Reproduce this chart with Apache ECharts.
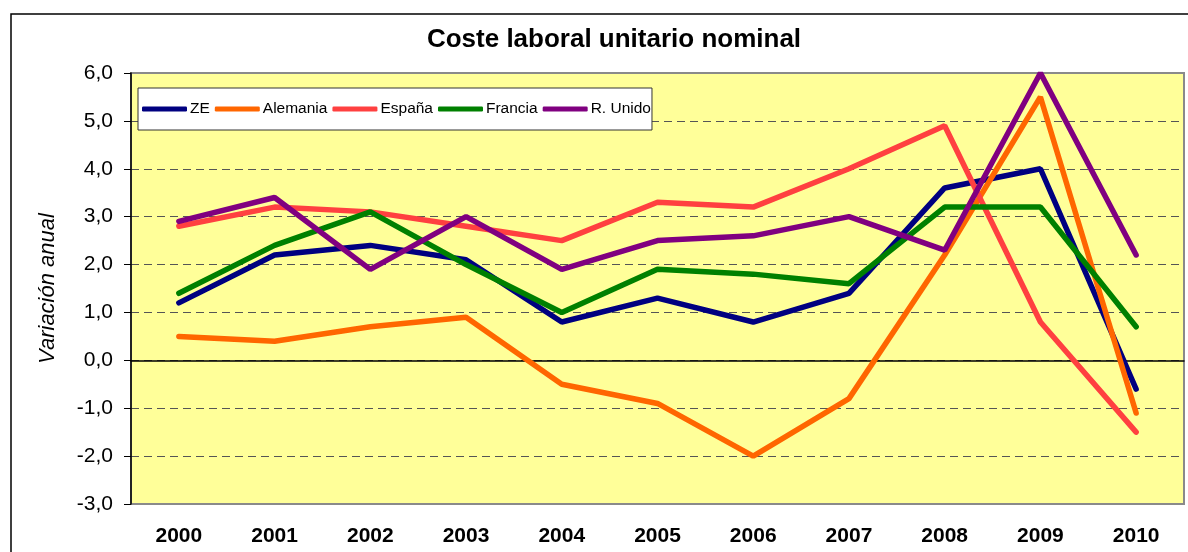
<!DOCTYPE html>
<html>
<head>
<meta charset="utf-8">
<script src="https://cdn.jsdelivr.net/npm/echarts@6/dist/echarts.min.js"></script>
<style>
html, body { margin: 0; padding: 0; background: #fff; }
#chart { width: 1188px; height: 552px; }
</style>
</head>
<body>
<div id="chart"></div>
<script>
var years = ['2000', '2001', '2002', '2003', '2004', '2005', '2006', '2007', '2008', '2009', '2010'];
var ze       = [1.2, 2.2, 2.4, 2.1, 0.8, 1.3, 0.8, 1.4, 3.6, 4.0, -0.6];
var alemania = [0.5, 0.4, 0.7, 0.9, -0.5, -0.9, -2.0, -0.8, 2.2, 5.5, -1.1];
var espana   = [2.8, 3.2, 3.1, 2.8, 2.5, 3.3, 3.2, 4.0, 4.9, 0.8, -1.5];
var francia  = [1.4, 2.4, 3.1, 2.0, 1.0, 1.9, 1.8, 1.6, 3.2, 3.2, 0.7];
var reino    = [2.9, 3.4, 1.9, 3.0, 1.9, 2.5, 2.6, 3.0, 2.3, 6.0, 2.2];

var font = '"Liberation Sans", Arial, sans-serif';

function linea(name, data, color) {
	return {
		name: name,
		type: 'line',
		data: data,
		showSymbol: false,
		symbol: 'none',
		lineStyle: { color: color, width: 5.5, cap: 'round' },
		itemStyle: { color: color },
		emphasis: { disabled: true }
	};
}

var myChart = echarts.init(document.getElementById('chart'));
var option = {
	backgroundColor: '#fff',
	animation: false,
	title: {
		text: 'Coste laboral unitario nominal',
		left: 614,
		top: 27,
		padding: 0,
		textAlign: 'center',
		textStyle: { fontFamily: font, fontSize: 26, fontWeight: 'bold', color: '#000' }
	},
	graphic: [{
		type: 'rect',
		silent: true,
		shape: { x: 11, y: 14, width: 1200, height: 600 },
		style: { fill: 'none', stroke: '#000', lineWidth: 1.5 },
		z: -10
	}],
	legend: {
		left: 138,
		top: 88,
		padding: [13, 1, 13, 4],
		itemGap: 5,
		itemWidth: 45,
		itemHeight: 5,
		icon: 'roundRect',
		backgroundColor: '#fff',
		borderColor: '#333',
		borderWidth: 1,
		borderRadius: 0,
		textStyle: { fontFamily: font, fontSize: 15.5, color: '#000', padding: [0, 0, 0, -2] },
		data: ['ZE', 'Alemania', 'España', 'Francia', 'R. Unido']
	},
	grid: {
		left: 131, top: 73, right: 4, bottom: 48,
		show: true,
		backgroundColor: '#FFFF99',
		borderColor: '#8a8a8a',
		borderWidth: 2
	},
	xAxis: [{
		type: 'category',
		data: years,
		axisLine: { onZero: true, lineStyle: { color: '#000', width: 1.5 } },
		axisTick: { length: 7, lineStyle: { color: '#000', width: 1.5 } },
		axisLabel: { show: false },
		splitLine: { show: false }
	}, {
		type: 'category',
		data: years,
		position: 'bottom',
		axisLine: { show: false, onZero: false },
		axisTick: { show: false },
		axisLabel: { margin: 22, fontFamily: font, fontSize: 21, fontWeight: 'bold', color: '#000' },
		splitLine: { show: false }
	}],
	yAxis: {
		type: 'value',
		min: -3,
		max: 6,
		interval: 1,
		name: 'Variación anual',
		nameLocation: 'middle',
		nameGap: 72,
		nameTextStyle: { fontFamily: font, fontSize: 22, fontStyle: 'italic', color: '#000' },
		axisLine: { show: true, lineStyle: { color: '#000', width: 1.5 } },
		axisTick: { show: true, length: 7, lineStyle: { color: '#000' } },
		axisLabel: {
			margin: 18,
			fontFamily: font,
			fontSize: 21,
			color: '#000',
			formatter: function (v) { return v.toFixed(1).replace('.', ','); }
		},
		splitLine: {
			show: true,
			showMinLine: false,
			showMaxLine: false,
			lineStyle: { color: '#555', width: 1, type: [8, 5] }
		}
	},
	series: [
		linea('ZE', ze, '#000080'),
		linea('Alemania', alemania, '#FF6600'),
		linea('España', espana, '#FF4040'),
		linea('Francia', francia, '#008000'),
		linea('R. Unido', reino, '#800080')
	]
};
myChart.setOption(option);
window.addEventListener('resize', function () {
	myChart.resize();
});
</script>
</body>
</html>
